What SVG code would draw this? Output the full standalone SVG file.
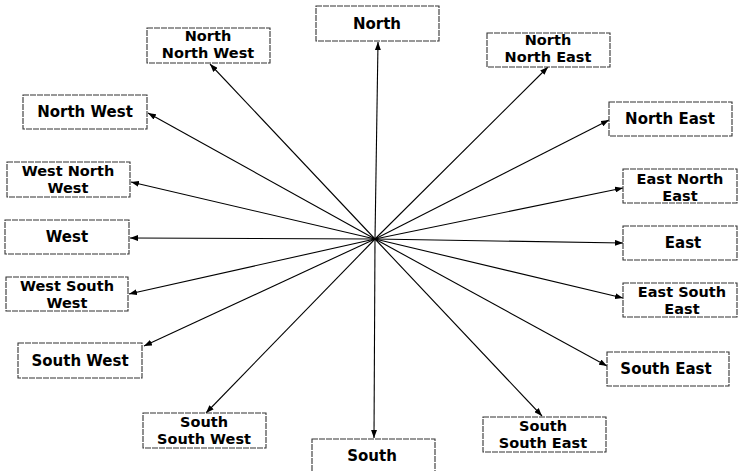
<svg xmlns="http://www.w3.org/2000/svg" width="740" height="471" viewBox="0 0 740 471">
<defs>
<marker id="ah" markerWidth="8" markerHeight="6" refX="8" refY="3" orient="auto" markerUnits="userSpaceOnUse">
<path d="M0,0 L8,3 L0,6 z" fill="#000"/>
</marker>
<style>
.box{fill:#fff;stroke:#333;stroke-width:1.1;stroke-dasharray:6 1}
.t{font-family:"DejaVu Sans","Liberation Sans",sans-serif;font-weight:bold;font-size:15px;text-anchor:middle;fill:#000}
.t2{font-family:"DejaVu Sans","Liberation Sans",sans-serif;font-weight:bold;font-size:14.5px;text-anchor:middle;fill:#000}
.c{stroke:#000;stroke-width:1.1;fill:none;marker-end:url(#ah)}
</style>
</defs>
<rect width="740" height="471" fill="#fff"/>
<g id="connectors">
<line class="c" x1="375" y1="239" x2="378" y2="42"/>
<line class="c" x1="375" y1="239" x2="548" y2="67"/>
<line class="c" x1="375" y1="239" x2="609" y2="120"/>
<line class="c" x1="375" y1="239" x2="623" y2="188"/>
<line class="c" x1="375" y1="239" x2="623" y2="243"/>
<line class="c" x1="375" y1="239" x2="623" y2="298"/>
<line class="c" x1="375" y1="239" x2="607" y2="366"/>
<line class="c" x1="375" y1="239" x2="542" y2="416"/>
<line class="c" x1="375" y1="239" x2="374" y2="438"/>
<line class="c" x1="375" y1="239" x2="206" y2="413"/>
<line class="c" x1="375" y1="239" x2="144" y2="346"/>
<line class="c" x1="375" y1="239" x2="129" y2="294"/>
<line class="c" x1="375" y1="239" x2="130" y2="238"/>
<line class="c" x1="375" y1="239" x2="131" y2="182"/>
<line class="c" x1="375" y1="239" x2="148" y2="113"/>
<line class="c" x1="375" y1="239" x2="210" y2="64"/>
</g>
<g id="north"><rect class="box" x="316" y="6" width="123" height="35"/><text class="t" x="377" y="29">North</text></g>
<g id="nnw"><rect class="box" x="147" y="28" width="123" height="35"/><text class="t2" x="208" y="41">North</text><text class="t2" x="208" y="58">North West</text></g>
<g id="nne"><rect class="box" x="487" y="33" width="123" height="34"/><text class="t2" x="548" y="45">North</text><text class="t2" x="548" y="62">North East</text></g>
<g id="nw"><rect class="box" x="23" y="95" width="124" height="34"/><text class="t" x="85" y="117">North West</text></g>
<g id="ne"><rect class="box" x="609" y="102" width="123" height="34"/><text class="t" x="670" y="124">North East</text></g>
<g id="wnw"><rect class="box" x="7" y="162" width="123" height="35"/><text class="t2" x="68" y="176">West North</text><text class="t2" x="68" y="193">West</text></g>
<g id="ene"><rect class="box" x="623" y="169" width="114" height="34"/><text class="t2" x="680" y="184">East North</text><text class="t2" x="680" y="201">East</text></g>
<g id="west"><rect class="box" x="5" y="220" width="124" height="34"/><text class="t" x="67" y="242">West</text></g>
<g id="east"><rect class="box" x="623" y="226" width="114" height="34"/><text class="t" x="683" y="248">East</text></g>
<g id="wsw"><rect class="box" x="6" y="277" width="122" height="34"/><text class="t2" x="67" y="291">West South</text><text class="t2" x="67" y="308">West</text></g>
<g id="ese"><rect class="box" x="623" y="283" width="114" height="34"/><text class="t2" x="682" y="297">East South</text><text class="t2" x="682" y="314">East</text></g>
<g id="sw"><rect class="box" x="18" y="343" width="124" height="35"/><text class="t" x="80" y="366">South West</text></g>
<g id="se"><rect class="box" x="607" y="352" width="122" height="34"/><text class="t" x="666" y="374">South East</text></g>
<g id="ssw"><rect class="box" x="143" y="413" width="123" height="35"/><text class="t2" x="204" y="427">South</text><text class="t2" x="204" y="444">South West</text></g>
<g id="south"><rect class="box" x="312" y="439" width="123" height="40"/><text class="t" x="372" y="461">South</text></g>
<g id="sse"><rect class="box" x="483" y="417" width="123" height="35"/><text class="t2" x="543" y="431">South</text><text class="t2" x="543" y="448">South East</text></g>
</svg>
